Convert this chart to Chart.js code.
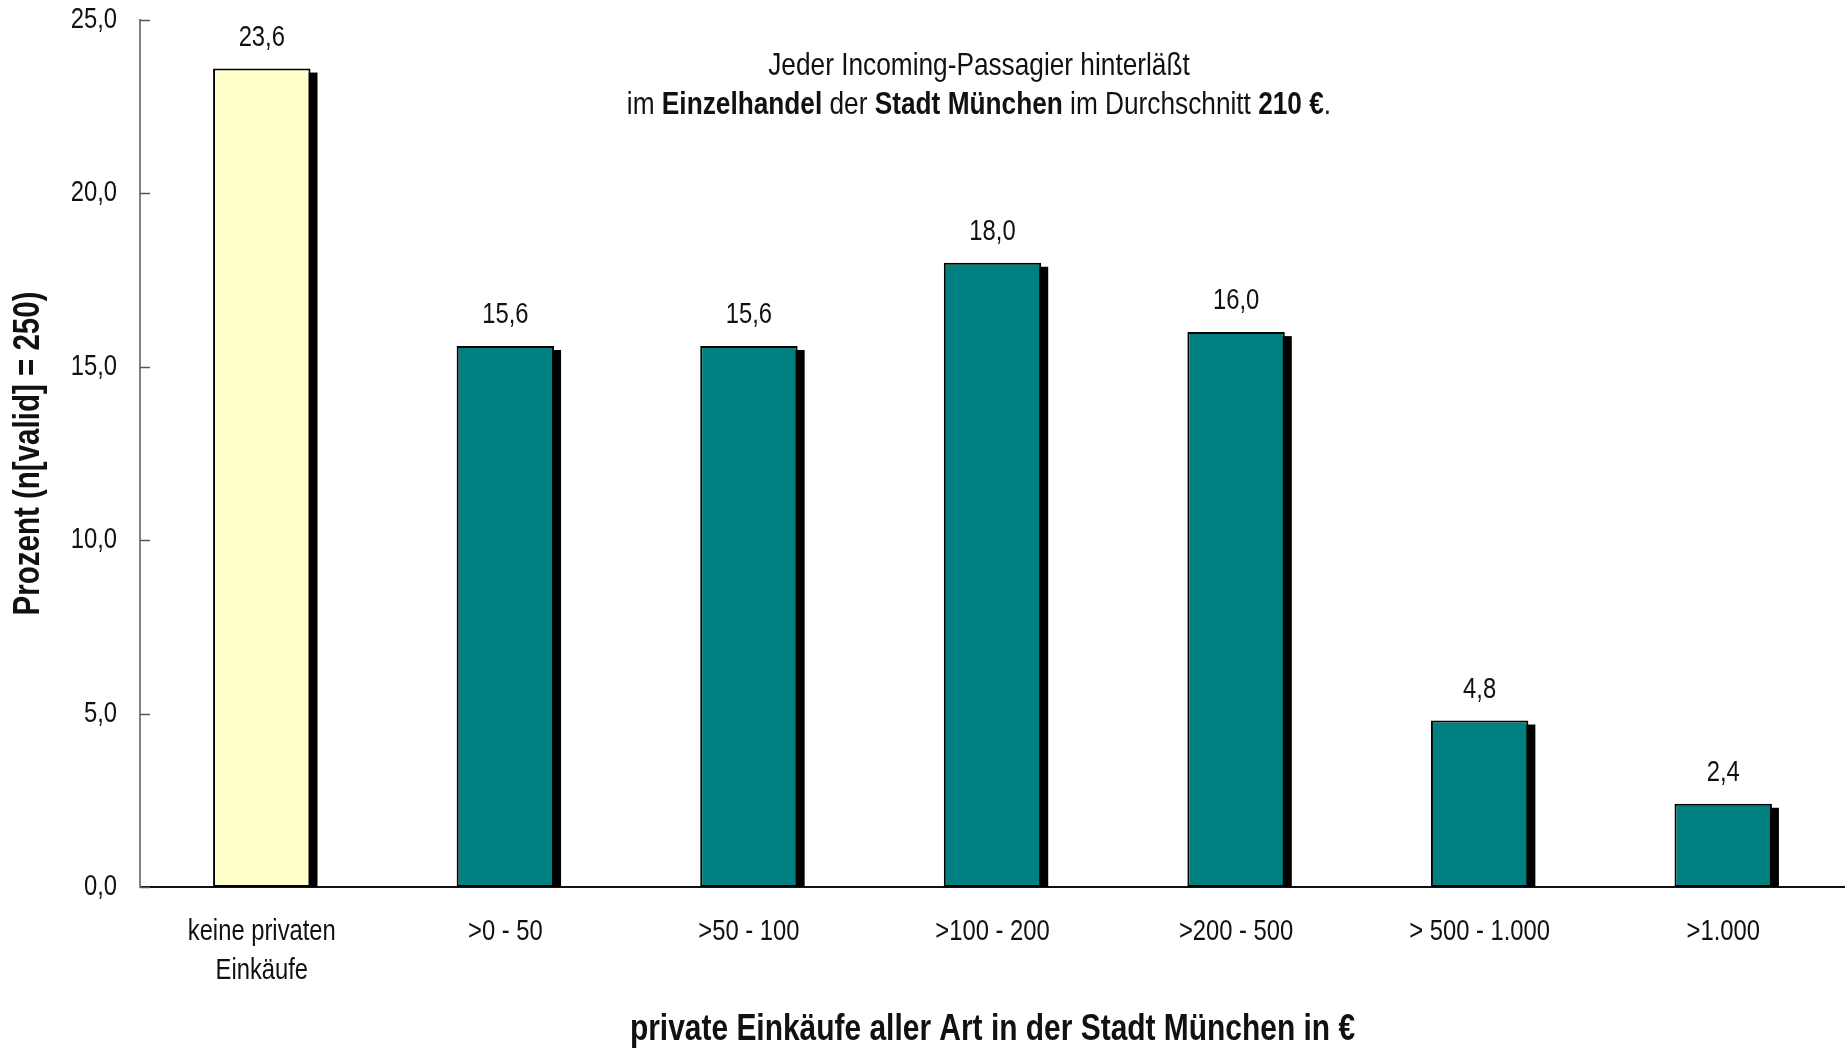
<!DOCTYPE html>
<html>
<head>
<meta charset="utf-8">
<script src="https://cdn.jsdelivr.net/npm/chart.js@4/dist/chart.umd.min.js"></script>
<style>
  html, body { margin: 0; padding: 0; background: #fff; }
  #wrap { width: 1845px; height: 1048px; position: relative; }
</style>
</head>
<body>
<div id="wrap"><canvas id="c"></canvas></div>
<script>
const categories = [['keine privaten', 'Einkäufe'], '>0 - 50', '>50 - 100', '>100 - 200', '>200 - 500', '> 500 - 1.000', '>1.000'];
const values = [23.6, 15.6, 15.6, 18.0, 16.0, 4.8, 2.4];
const barColors = ['#FFFFCC', '#008080', '#008080', '#008080', '#008080', '#008080', '#008080'];
const yTicks = [0, 5, 10, 15, 20, 25];
const yTitle = 'Prozent (n[valid] = 250)';
const xTitle = 'private Einkäufe aller Art in der Stadt München in €';
const noteLine1 = [['Jeder Incoming-Passagier hinterläßt', false]];
const noteLine2 = [['im ', false], ['Einzelhandel', true], [' der ', false], ['Stadt München', true], [' im Durchschnitt ', false], ['210 €', true], ['.', false]];

const FONT = '"Liberation Sans", Arial, sans-serif';
const SX = 0.82; // horizontal compression, to imitate a narrow face
const TEXT = '#111';
const fmt = v => v.toFixed(1).replace('.', ',');

function drawText(ctx, text, x, y, size, bold, align, rot) {
  ctx.save();
  ctx.translate(x, y);
  if (rot) ctx.rotate(rot);
  ctx.scale(SX, 1);
  ctx.font = (bold ? 'bold ' : '') + size + 'px ' + FONT;
  ctx.fillStyle = TEXT;
  ctx.textAlign = align || 'center';
  ctx.textBaseline = 'middle';
  ctx.fillText(text, 0, 0);
  ctx.restore();
}
function textWidth(ctx, text, size, bold) {
  ctx.save();
  ctx.font = (bold ? 'bold ' : '') + size + 'px ' + FONT;
  const w = ctx.measureText(text).width * SX;
  ctx.restore();
  return w;
}

const shadowPlugin = {
  id: 'shadow',
  beforeDatasetsDraw(chart) {
    const ctx = chart.ctx;
    const meta = chart.getDatasetMeta(0);
    ctx.save();
    ctx.fillStyle = '#000';
    meta.data.forEach(el => {
      const p = el.getProps(['x', 'y', 'base', 'width'], true);
      ctx.fillRect(p.x - p.width / 2 + 7, p.y + 4, p.width, p.base - p.y - 4);
    });
    ctx.restore();
  }
};

const labelPlugin = {
  id: 'labels',
  afterDatasetsDraw(chart) {
    const ctx = chart.ctx;
    const meta = chart.getDatasetMeta(0);
    meta.data.forEach((el, i) => {
      const p = el.getProps(['x', 'y'], true);
      drawText(ctx, fmt(values[i]), p.x, p.y - 31, 29, false, 'center');
    });
  }
};

const axisTextPlugin = {
  id: 'axisText',
  afterDraw(chart) {
    const ctx = chart.ctx;
    const ys = chart.scales.y, xs = chart.scales.x;
    const area = chart.chartArea;
    // y ticks: inward marks + labels
    ctx.save();
    ctx.strokeStyle = '#555';
    ctx.lineWidth = 1.5;
    yTicks.forEach(v => {
      const py = Math.round(ys.getPixelForValue(v)) + 0.5;
      ctx.beginPath();
      ctx.moveTo(ys.right, py);
      ctx.lineTo(ys.right + 10, py);
      ctx.stroke();
    });
    ctx.restore();
    yTicks.forEach(v => {
      drawText(ctx, fmt(v), ys.right - 23, ys.getPixelForValue(v), 29, false, 'right');
    });
    // x category labels
    categories.forEach((c, i) => {
      const px = xs.getPixelForValue(i);
      const lines = Array.isArray(c) ? c : [c];
      lines.forEach((l, j) => drawText(ctx, l, px, xs.top + 45 + j * 39, 29, false, 'center'));
    });
    // axis titles
    drawText(ctx, xTitle, (area.left + area.right) / 2, 1030, 36.5, true, 'center');
    drawText(ctx, yTitle, 29, (area.top + area.bottom) / 2, 36, true, 'center', -Math.PI / 2);
    // note text
    const cx = 979, fs = 32;
    const drawLine = (segs, cy) => {
      let total = 0;
      segs.forEach(s => { total += textWidth(ctx, s[0], fs, s[1]); });
      let x = cx - total / 2;
      segs.forEach(s => {
        drawText(ctx, s[0], x, cy, fs, s[1], 'left');
        x += textWidth(ctx, s[0], fs, s[1]);
      });
    };
    drawLine(noteLine1, 66);
    drawLine(noteLine2, 105);
  }
};

new Chart(document.getElementById('c'), {
  type: 'bar',
  data: {
    labels: categories,
    datasets: [{
      data: values,
      backgroundColor: barColors,
      borderColor: '#000',
      borderWidth: 2,
      barPercentage: 0.4,
      categoryPercentage: 1.0,
      borderSkipped: false
    }]
  },
  options: {
    responsive: true,
    maintainAspectRatio: false,
    animation: false,
    layout: { padding: { top: 20, right: 0, bottom: 0, left: 0 } },
    plugins: { legend: { display: false }, tooltip: { enabled: false }, title: { display: false } },
    scales: {
      x: {
        grid: { display: false, drawTicks: false },
        border: { display: true, color: '#111', width: 2 },
        ticks: { display: false },
        title: { display: false },
        afterFit(s) { s.height = 161; }
      },
      y: {
        min: 0, max: 25,
        grid: { display: false, drawTicks: false },
        border: { display: true, color: '#808080', width: 2 },
        ticks: { display: false, stepSize: 5 },
        title: { display: false },
        afterFit(s) { s.width = 140; }
      }
    }
  },
  plugins: [shadowPlugin, labelPlugin, axisTextPlugin]
});
</script>
</body>
</html>
